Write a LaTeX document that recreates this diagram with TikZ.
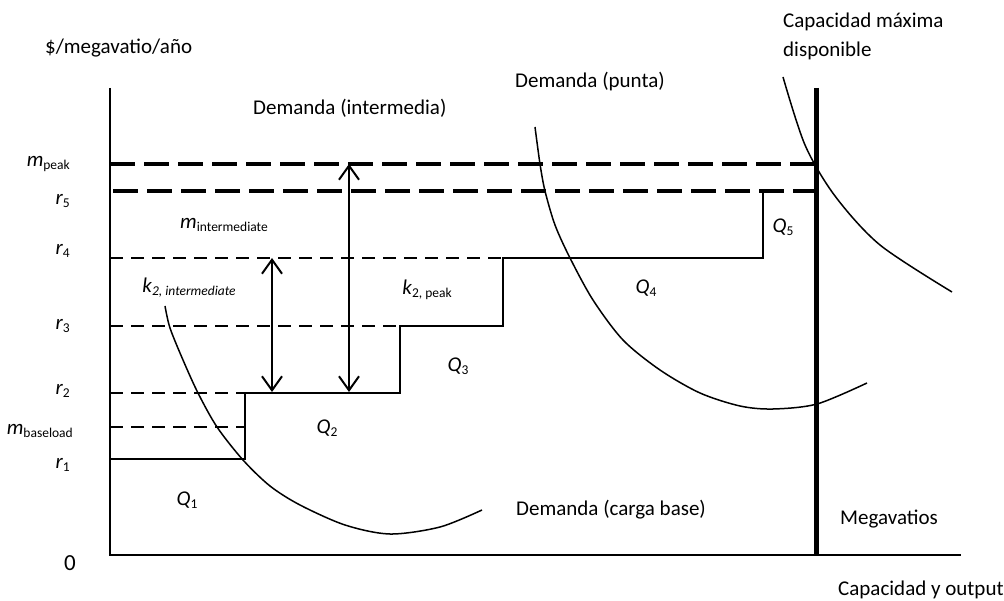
\documentclass[tikz,border=0pt]{standalone}
\usepackage{fontspec}
\setmainfont{Carlito}
\usetikzlibrary{arrows.meta}

% letter with a small lowered index
\newcommand{\idx}[2]{#1\raisebox{-3pt}{\fontsize{13.5}{13.5}\selectfont #2}}

\begin{document}
\begin{tikzpicture}[x=1pt,y=-1pt,
    every node/.style={inner sep=0pt,font=\fontsize{21}{25}\selectfont},
    axis/.style={line width=2.5pt},
    stair/.style={line width=2.5pt,line join=miter},
    thickdash/.style={line width=3.5pt,dash pattern=on 25pt off 9pt},
    thindash/.style={line width=2.5pt,dash pattern=on 13pt off 8pt},
    demand/.style={line width=1.5pt},
    gap/.style={line width=2pt,{Straight Barb[length=14pt,width=20pt]}-{Straight Barb[length=14pt,width=20pt]}}]
        \useasboundingbox (0,0) rectangle (1004,601);

        % Price levels
        \draw[thickdash] (110,164) -- (816,164);
        \draw[thickdash] (113,191) -- (816,191);
        \foreach \y/\x in {258/503,326/400,393/245,427/245}
            \draw[thindash] (110,\y) -- (\x,\y);

        % Cost steps
        \draw[stair] (110,459) -- (245,459) -- (245,393) -- (400,393) -- (400,326)
            -- (503,326) -- (503,258) -- (763,258) -- (763,191);

        % Axes
        \draw[axis] (110,88) -- (110,555) -- (961,555);
        \draw[line width=5pt] (816,88) -- (816,555);

        % Gaps
        \coordinate (g1top) at (272,258);
        \coordinate (g1bot) at (272,392);
        \coordinate (g2top) at (349,164);
        \coordinate (g2bot) at (349,392);
        \draw[gap] (g1top) -- (g1bot);
        \draw[gap] (g2top) -- (g2bot);

        % Demand curves
        \draw[demand] plot[smooth] coordinates {(165,306) (170,328) (183,360) (198,393)
            (217,427) (243,460) (270,486) (300,505) (345,525) (390,534) (440,527) (482,510)};
        \draw[demand] plot[smooth] coordinates {(535,127) (540,164) (545,191) (555,225)
            (570,258) (593,300) (623,340) (660,370) (700,393) (740,406) (773,409) (817,404) (867,383)};
        \draw[demand] plot[smooth] coordinates {(783,77) (805,145) (835,196) (880,245) (952,292)};

        % Vertical axis labels
        \foreach \y/\t [count=\i] in {167/\idx{\textit{m}}{peak},205/\idx{\textit{r}}{5},
            255/\idx{\textit{r}}{4},330/\idx{\textit{r}}{3},395/\idx{\textit{r}}{2},468/\idx{\textit{r}}{1}}
            \node[anchor=base east] (lev\i) at (70,\y) {\t};
        \node[anchor=base east] (mbase) at (73,435) {\idx{\textit{m}}{baseload}};
        \node (zero) at (70,563) {\fontsize{23}{25}\selectfont 0};

        % Areas
        \node (mint) at (224,225) {\idx{\textit{m}}{intermediate}};
        \node (kint) at (189,288) {\idx{\textit{k}}{\textit{2, intermediate}}};
        \node (kpeak) at (427,290) {\idx{\textit{k}}{2, peak}};
        \node (q1) at (187,500) {\idx{\textit{Q}}{1}};
        \node (q2) at (327,428) {\idx{\textit{Q}}{2}};
        \node (q3) at (458,366) {\idx{\textit{Q}}{3}};
        \node (q4) at (646,288) {\idx{\textit{Q}}{4}};
        \node (q5) at (783,227) {\idx{\textit{Q}}{5}};

        % Text
        \node[anchor=west] (ylab) at (45,48) {\$/megavatio/año};
        \node[anchor=west] (dint) at (253,108) {Demanda (intermedia)};
        \node[anchor=west] (dpeak) at (515,82) {Demanda (punta)};
        \node[anchor=base west] (cmax) at (783,28) {Capacidad máxima};
        \node[anchor=base west] (cdisp) at ([yshift=-29pt]cmax.base west) {disponible};
        \node[anchor=west] (dbase) at (516,510) {Demanda (carga base)};
        \node[anchor=west] (mw) at (840,519) {Megavatios};
        \node[anchor=west] (xlab) at (838,590) {Capacidad y output};
    \end{tikzpicture}
\end{document}
